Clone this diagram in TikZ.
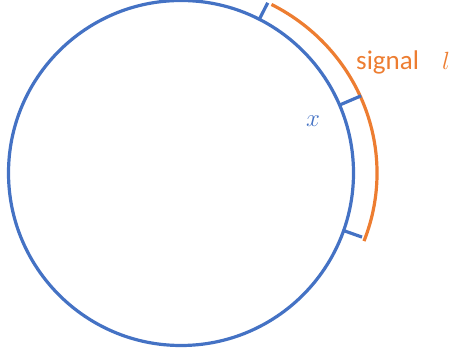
\documentclass[tikz,border=0pt]{standalone}
\usepackage{fontspec}
\setmainfont{Carlito}
\usetikzlibrary{calc}
\definecolor{ringblue}{HTML}{4472C4}
\definecolor{sigorange}{HTML}{ED7D31}

\begin{document}
\begin{tikzpicture}[
  x=1pt,y=1pt,
  ring/.style={draw=ringblue,line width=3.2pt},
  signalarc/.style={draw=sigorange,line width=3.2pt},
  tickmark/.style={draw=ringblue,line width=3.2pt},
  lbl/.style={inner sep=0pt,anchor=base west},
]
  \useasboundingbox (0,0) rectangle (454,356);
  \coordinate (c) at (181,183);

  \draw[ring] (c) circle[radius=172.5];
  \draw[signalarc] ([shift={(62.5:196 and 190)}]c) arc[start angle=62.5,end angle=-21,x radius=196,y radius=190];

  % ticks from the ring out to the signal arc
  \foreach \a/\r in {63/191,23.2/196,-19.5/192}
    \draw[tickmark] ([shift={(\a:172.5)}]c) -- ([shift={(\a:\r)}]c);

  \node[lbl,text=sigorange,font=\fontsize{27}{30}\selectfont] (sig) at (356,286) {signal};
  \node[lbl,text=sigorange,font=\fontsize{24}{28}\selectfont] (len) at (442,286) {$l$};
  \node[lbl,text=ringblue,font=\fontsize{28}{32}\selectfont] (pos) at (306,229) {$x$};
\end{tikzpicture}
\end{document}
